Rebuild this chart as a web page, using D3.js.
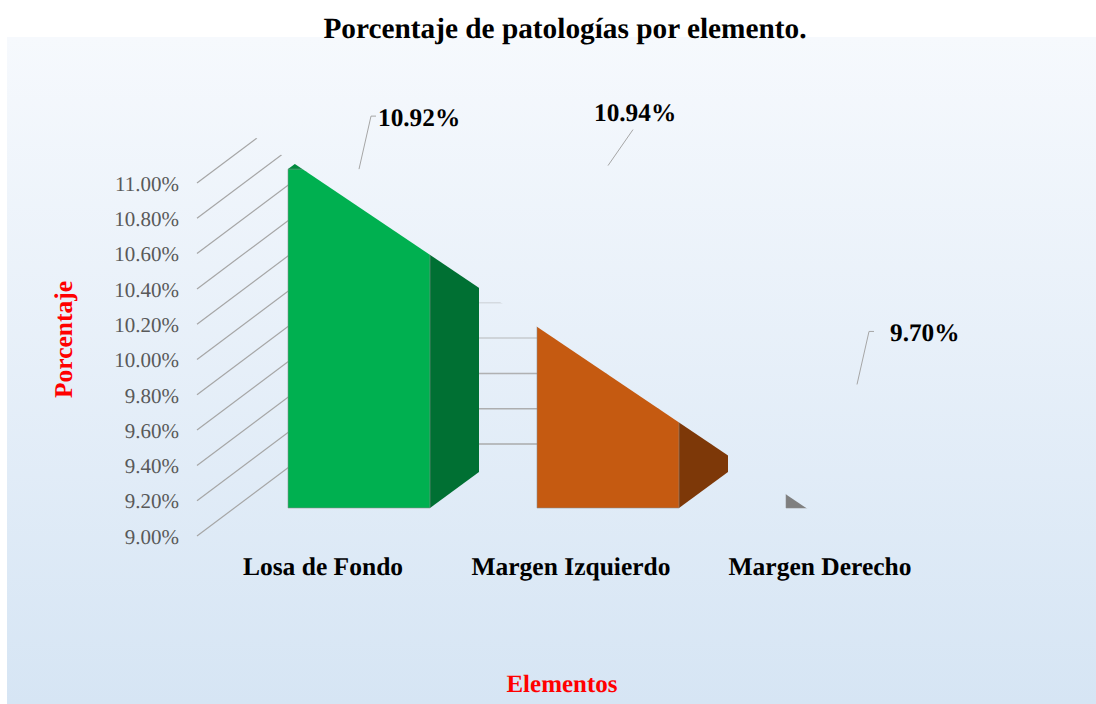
<!DOCTYPE html>
<html><head><meta charset="utf-8">
<script src="https://cdn.jsdelivr.net/npm/d3@7/dist/d3.min.js"></script>
<style>html,body{margin:0;padding:0;background:#fff}svg{display:block}text{font-family:"Liberation Serif",serif;text-rendering:geometricPrecision}</style>
</head><body><svg id="c" width="1096" height="704"></svg>
<script>
const categories = ["Losa de Fondo","Margen Izquierdo","Margen Derecho"];
const values = [10.92,10.94,9.70];
const valueLabels = ["10.92%","10.94%","9.70%"];
const tickValues = [9.0,9.2,9.4,9.6,9.8,10.0,10.2,10.4,10.6,10.8,11.0];
const frontColors = ["#00B050","#C55A11","#7F7F7F"];
const sideColors = ["#007033","#7D3808","#525252"];
const topColors = ["#008A3E","#9A4A0D","#666666"];
const title = "Porcentaje de patologías por elemento.";
const xTitle = "Elementos";
const yTitle = "Porcentaje";

const svg = d3.select("#c");
const defs = svg.append("defs");
const grad = defs.append("linearGradient").attr("id","bg").attr("x1",0).attr("x2",0).attr("y1",0).attr("y2",1);
grad.append("stop").attr("offset","0%").attr("stop-color","#F6F9FD");
grad.append("stop").attr("offset","100%").attr("stop-color","#D6E5F4");
svg.append("rect").attr("x",7).attr("y",37).attr("width",1089).attr("height",667).attr("fill","url(#bg)");

// scales
const pxPerUnit = 176.5;
const yAxisScale = d3.scaleLinear().domain([9,11]).range([536,536-2*pxPerUnit]);
const yFront = d3.scaleLinear().domain([9,11]).range([508,508-2*pxPerUnit]);
const yWall = d3.scaleLinear().domain([9,11]).range([444,444-2*pxPerUnit]);
const barW = 142, depthX = 49, depthY = -36;
const xPosScale = d3.scalePoint().domain(categories).range([288,786]);
const xPos = c => xPosScale(c);

// diagonal cut applied to the whole plot, as in the reference
const slope = 0.673, cx0 = 295, cy0 = 164;
const cut = xx => cy0 + slope*(xx-cx0);
defs.append("clipPath").attr("id","cut").append("polygon")
  .attr("points",[[0,cut(0)],[1096,cut(1096)],[1096,704],[0,704]].map(p=>p.join(",")).join(" "));

const plot = svg.append("g").attr("clip-path","url(#cut)");

// gridlines: side wall then back wall
const wallX = 197 + (536-444)/0.75;
const wallOpacity = {9.0:.95,9.2:.9,9.4:.85,9.6:.5,9.8:.3};
const grid = plot.append("g").attr("fill","none").attr("stroke","#a6a6a6").attr("stroke-width",1.2);
tickValues.forEach(v=>{
  grid.append("line").attr("x1",197).attr("y1",yAxisScale(v)).attr("x2",wallX).attr("y2",yWall(v));
  grid.append("line").attr("x1",wallX).attr("y1",yWall(v)).attr("x2",1040).attr("y2",yWall(v))
      .attr("stroke-width",1.5).attr("stroke-opacity",wallOpacity[v]===undefined?.3:wallOpacity[v]);
});

// bars
const poly = d3.line();
categories.forEach((c,i)=>{
  const x0 = xPos(c), x1 = x0+barW, yt = yFront(values[i]), yb = yFront(9);
  const g = plot.append("g");
  g.append("path").attr("d",poly([[x0,yt],[x0+depthX,yt+depthY],[x1+depthX,yt+depthY],[x1,yt]])+"Z").attr("fill",topColors[i]);
  g.append("path").attr("d",poly([[x1,yt],[x1+depthX,yt+depthY],[x1+depthX,yb+depthY],[x1,yb]])+"Z").attr("fill",sideColors[i]);
  g.append("path").attr("d",poly([[x0,yt],[x1,yt],[x1,yb],[x0,yb]])+"Z").attr("fill",frontColors[i])
   .attr("stroke","#8a8a8a").attr("stroke-opacity",.55).attr("stroke-width",1);
});

// axis labels
const axis = d3.axisLeft(yAxisScale).tickValues(tickValues).tickSize(0).tickPadding(0)
  .tickFormat(d=>d3.format(".2f")(d)+"%");
const ag = svg.append("g").attr("transform","translate(179,0.5)").call(axis);
ag.select(".domain").remove();
ag.selectAll("text").attr("font-family","Liberation Serif").attr("font-size",21).attr("fill","#595959");

// category labels
svg.append("g").selectAll("text").data(categories).join("text")
  .attr("x",c=>xPos(c)+35+(categories.indexOf(c)===0?0:-1)).attr("y",575)
  .attr("text-anchor","middle").attr("font-size",25.5).attr("font-weight","bold").attr("fill","#000").text(d=>d);

// data labels with leaders
const leaderPts = [[[12,-53],[17,-53]],[[25,-36]],[[12,-53],[17,-53]]];
const labelPos = [[378,126],[594,121],[890,341]];
categories.forEach((c,i)=>{
  const ax = xPos(c)+barW/2, ay = yFront(values[i]);
  const pts = [[ax,ay]].concat(leaderPts[i].map(p=>[ax+p[0],ay+p[1]]));
  svg.append("path").attr("d",poly(pts)).attr("fill","none").attr("stroke","#a6a6a6").attr("stroke-width",1);
  svg.append("text").attr("x",labelPos[i][0]).attr("y",labelPos[i][1]).attr("font-size",25.3)
    .attr("font-weight","bold").attr("fill","#000").text(valueLabels[i]);
});

// titles
svg.append("text").attr("x",565).attr("y",38).attr("text-anchor","middle").attr("font-size",29.3)
  .attr("font-weight","bold").attr("fill","#000").text(title);
svg.append("text").attr("x",562).attr("y",692).attr("text-anchor","middle").attr("font-size",25)
  .attr("font-weight","bold").attr("fill","#FF0000").text(xTitle);
svg.append("text").attr("transform","translate(72,339.5) rotate(-90)").attr("text-anchor","middle").attr("font-size",25.5)
  .attr("font-weight","bold").attr("fill","#FF0000").text(yTitle);
</script></body></html>
